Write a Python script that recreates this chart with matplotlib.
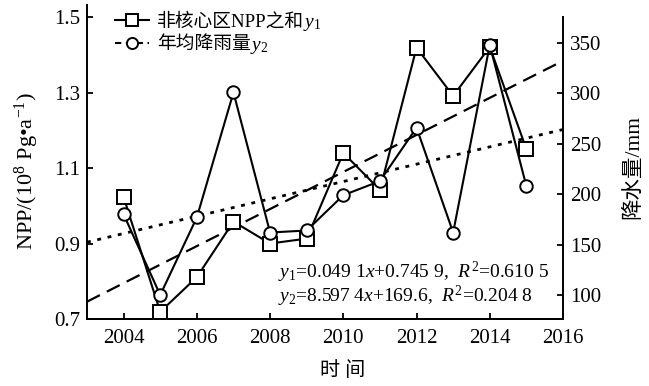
import matplotlib
matplotlib.use("Agg")
import matplotlib.pyplot as plt
from matplotlib.lines import Line2D
import numpy as np

plt.rcParams['font.family'] = ['Liberation Serif', 'Noto Sans CJK SC']
plt.rcParams['mathtext.fontset'] = 'custom'
plt.rcParams['mathtext.rm'] = 'Liberation Serif'
plt.rcParams['mathtext.it'] = 'Liberation Serif:italic'
plt.rcParams['mathtext.bf'] = 'Liberation Serif:bold'

years = [2004, 2005, 2006, 2007, 2008, 2009, 2010, 2011, 2012, 2013, 2014, 2015]
npp = [1.023, 0.719, 0.811, 0.958, 0.900, 0.913, 1.140, 1.042, 1.419, 1.291, 1.421, 1.150]
rain = [180, 100, 177, 301, 162, 164, 199, 213, 266, 162, 348, 208]

# trend lines (slope, intercept, base year of x)
npp_trend = (0.0491, 0.7459, 2003)
rain_trend = (8.5974, 169.6, 2005)

xticks = [2004, 2006, 2008, 2010, 2012, 2014, 2016]
left_ticks = [0.7, 0.9, 1.1, 1.3, 1.5]
right_ticks = [100, 150, 200, 250, 300, 350]

label_y1 = '非核心区NPP之和'
label_y2 = '年均降雨量'
sub_y1 = '$y_1$'
sub_y2 = '$y_2$'
eq1 = '$y_1$=0.049 1$x$+0.745 9,  $R^2$=0.610 5'
eq2 = '$y_2$=8.597 4$x$+169.6,  $R^2$=0.204 8'

W, H = 649, 386
fig = plt.figure(figsize=(W / 100, H / 100), dpi=100)
L, R, B, T = 87, 563, 319, 5
ax = fig.add_axes([L / W, 1 - B / H, (R - L) / W, (B - T) / H])
ax2 = ax.twinx()

lw = 1.5
c = 'black'
ax.plot(years, npp, '-', color=c, lw=lw, marker='s', ms=9.5, mfc='white', mec=c, mew=1.4, zorder=3)
ax2.plot(years, rain, '-', color=c, lw=lw, marker='o', ms=9, mfc='white', mec=c, mew=1.4, zorder=3)

xt = np.array([2003, 2016])
ax.plot(xt, npp_trend[1] + npp_trend[0] * (xt - npp_trend[2]), color=c, lw=1.6,
        linestyle=(0, (6.5, 3.5)), zorder=2)
ax2.plot(xt, rain_trend[1] + rain_trend[0] * (xt - rain_trend[2]), color=c, lw=2.0,
         linestyle=(0, (1.4, 2.4)), zorder=2)

ax.set_xlim(2003, 2016)
ax.set_ylim(0.7, 1.532)
ax2.set_ylim(76.2, 387.7)
ax.set_xticks(xticks)
ax.set_yticks(left_ticks)
ax.set_yticklabels([f'{v:.1f}' for v in left_ticks])
ax2.set_yticks(right_ticks)

fs = 15
for a in (ax, ax2):
    a.tick_params(direction='in', length=4, width=1.3, labelsize=fs, pad=5)
    a.spines['top'].set_visible(False)
    for s in a.spines.values():
        s.set_linewidth(1.4)
ax.spines['right'].set_visible(False)
ax2.spines['left'].set_visible(False)
ax2.spines['right'].set_bounds(76.2, 375.5)
ax.tick_params(axis='x', pad=7)

fig.text(27 / W, 1 - 171 / H, 'NPP/(10$^8$ Pg•a$^{-1}$)', rotation=90,
         ha='center', va='center', fontsize=16)
fig.text(633 / W, 1 - 167 / H, '降水量/mm', rotation=90, ha='center', va='center', fontsize=15.5)
fig.text(343 / W, 1 - 371 / H, '时 间', ha='center', va='center', fontsize=14.5)

fig.text(278 / W, 1 - 272 / H, eq1, ha='left', va='center', fontsize=14)
fig.text(278 / W, 1 - 296 / H, eq2, ha='left', va='center', fontsize=14)

h1 = Line2D([], [], color=c, lw=lw, marker='s', ms=8.5, mfc='white', mec=c, mew=1.4)
h2 = Line2D([], [], color=c, lw=lw, linestyle=(0, (3, 2.2)), marker='o', ms=8, mfc='white', mec=c, mew=1.4)
leg = fig.legend([h1, h2], [label_y1, label_y2], loc='upper left', bbox_to_anchor=(115 / W, 1 - 13 / H),
                 frameon=False, fontsize=13.5, handlelength=1.8, handletextpad=0.45, labelspacing=0.3,
                 borderpad=0, borderaxespad=0)

fig.canvas.draw()
renderer = fig.canvas.get_renderer()
inv = fig.transFigure.inverted()
for txt, sub in zip(leg.get_texts(), [sub_y1, sub_y2]):
    bb = txt.get_window_extent(renderer)
    x0, y0 = inv.transform((bb.x1 - 1, bb.y0 + 0.22 * bb.height))
    fig.text(x0, y0, sub, ha='left', va='baseline', fontsize=14)

fig.savefig('out.png', dpi=100)
